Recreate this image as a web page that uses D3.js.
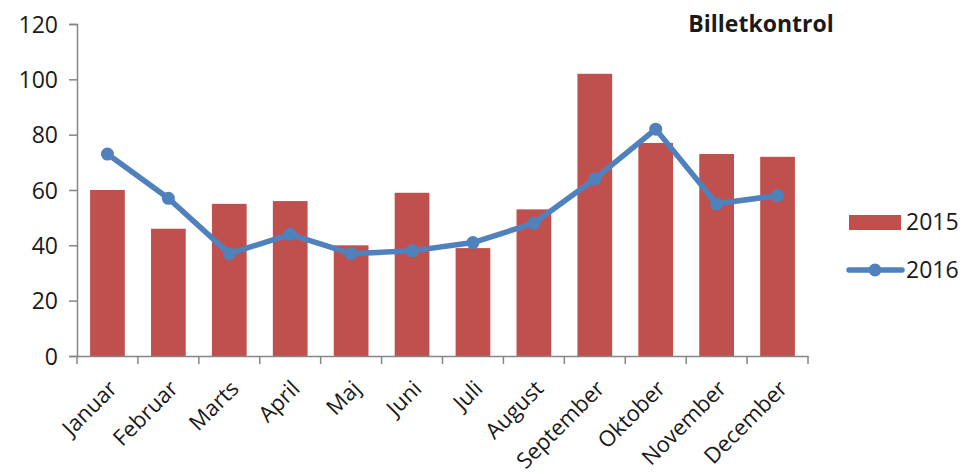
<!DOCTYPE html>
<html><head><meta charset="utf-8">
<script src="https://cdn.jsdelivr.net/npm/d3@7"></script>
<style>body{margin:0;background:#fff}svg{display:block}text{font-family:"Open Sans",sans-serif;fill:#1a1a1a}</style>
</head><body><svg id="c" width="962" height="474"></svg>
<script>
const categories = ["Januar","Februar","Marts","April","Maj","Juni","Juli","August","September","Oktober","November","December"];
const values2015 = [60,46,55,56,40,59,39,53,102,77,73,72];
const values2016 = [73,57,37,44,37,38,41,48,64,82,55,58];
const yTicks = [0,20,40,60,80,100,120];
const title = "Billetkontrol";
const seriesNames = ["2015","2016"];

const svg = d3.select("#c");
const m = {l:77, r:154, t:24, b:118};
const W = 962, H = 474;
const x = d3.scaleBand().domain(categories).range([m.l, W - m.r]).paddingInner(0.43).paddingOuter(0.215);
const xc = d3.scaleBand().domain(categories).range([m.l, W - m.r]);
const y = d3.scaleLinear().domain([0,120]).range([H - m.b, m.t]);
const axisColor = "#868686";
const font = "'Open Sans', sans-serif";

svg.selectAll("rect.bar").data(values2015).join("rect")
  .attr("class","bar")
  .attr("x",(d,i)=>x(categories[i]))
  .attr("width",x.bandwidth())
  .attr("y",d=>y(d))
  .attr("height",d=>y(0)-y(d))
  .attr("fill","#C0504D");

// y axis
const ya = svg.append("g").attr("transform",`translate(${m.l},0)`)
  .call(d3.axisLeft(y).tickValues(yTicks).tickSize(8).tickPadding(11));
ya.select(".domain").attr("stroke",axisColor).attr("stroke-width",1.5);
ya.selectAll(".tick line").attr("stroke",axisColor).attr("stroke-width",1.5);
ya.selectAll(".tick text").attr("font-size",23).attr("font-family",font).attr("fill","#1a1a1a").attr("dy","0.36em");

// x axis
const xa = svg.append("g").attr("transform",`translate(0,${y(0)})`)
  .call(d3.axisBottom(xc).tickSize(0).tickFormat(""));
xa.select(".domain").attr("stroke",axisColor).attr("stroke-width",1.5);
const bounds = xc.domain().map(d=>xc(d)).concat([W - m.r]);
svg.selectAll("line.xt").data(bounds).join("line").attr("class","xt")
  .attr("x1",d=>d).attr("x2",d=>d).attr("y1",y(0)).attr("y2",y(0)+8)
  .attr("stroke",axisColor).attr("stroke-width",1.5);

svg.selectAll("text.xl").data(categories).join("text").attr("class","xl")
  .attr("transform",d=>`translate(${xc(d)+xc.bandwidth()/2+11},${y(0)+34}) rotate(-45)`)
  .attr("text-anchor","end").attr("font-size",22).text(d=>d);

// line
const line = d3.line().x((d,i)=>xc(categories[i])+xc.bandwidth()/2).y(d=>y(d));
svg.append("path").datum(values2016).attr("d",line).attr("fill","none")
  .attr("stroke","#4F81BD").attr("stroke-width",5.5).attr("stroke-linejoin","round");
svg.selectAll("circle.pt").data(values2016).join("circle").attr("class","pt")
  .attr("cx",(d,i)=>xc(categories[i])+xc.bandwidth()/2).attr("cy",d=>y(d)).attr("r",6.5)
  .attr("fill","#4F81BD");

// title
svg.append("text").attr("x",761).attr("y",32).attr("text-anchor","middle")
  .attr("font-size",23).attr("font-weight","bold").text(title);

// legend
svg.append("rect").attr("x",849).attr("y",215).attr("width",52).attr("height",15).attr("fill","#C0504D");
svg.append("text").attr("x",906).attr("y",230).attr("font-size",23).text(seriesNames[0]);
svg.append("line").attr("x1",849).attr("x2",902).attr("y1",270).attr("y2",270)
  .attr("stroke","#4F81BD").attr("stroke-width",5.5).attr("stroke-linecap","round");
svg.append("circle").attr("cx",875).attr("cy",270).attr("r",6.5).attr("fill","#4F81BD");
svg.append("text").attr("x",906).attr("y",278).attr("font-size",23).text(seriesNames[1]);
</script></body></html>
